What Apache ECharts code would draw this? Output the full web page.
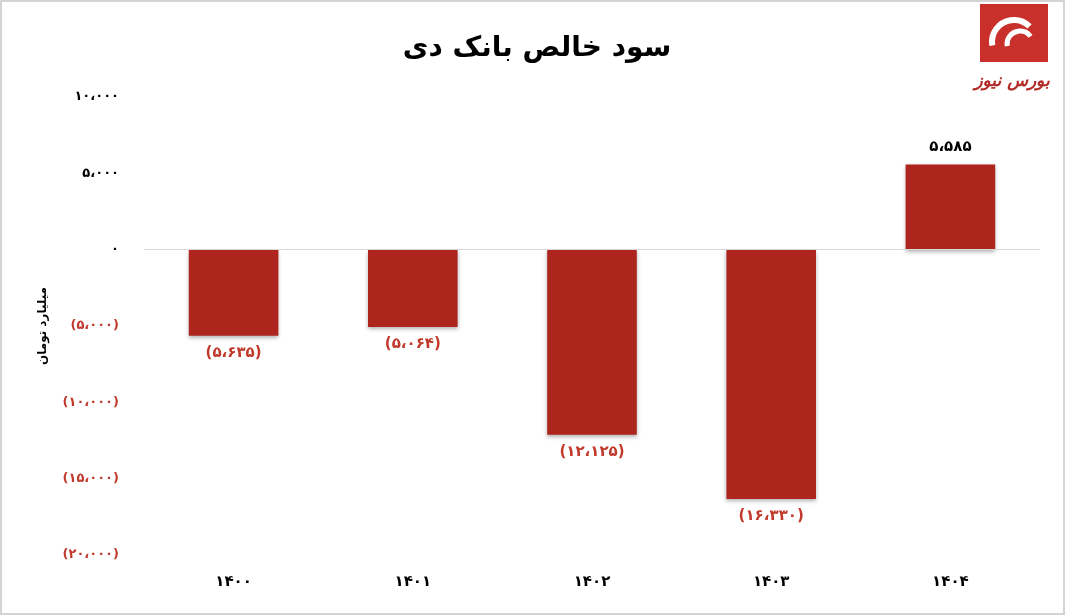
<!DOCTYPE html>
<html>
<head>
<meta charset="utf-8">
<script src="https://cdn.jsdelivr.net/npm/echarts@6/dist/echarts.min.js"></script>
<style>
  html, body { margin: 0; padding: 0; background: #fff; }
  #chart { width: 1061px; height: 611px; border: 2px solid #d4d4d4; }
</style>
</head>
<body>
<div id="chart"></div>
<script>
const years = ["1400", "1401", "1402", "1403", "1404"];
const netProfit = [-5635, -5064, -12125, -16330, 5585];

const faDigits = "۰۱۲۳۴۵۶۷۸۹";
function toFa(s) {
  return String(s).replace(/\d/g, d => faDigits[d]);
}
function fmt(v) {
  const n = Math.abs(v).toString().replace(/\B(?=(\d{3})+(?!\d))/g, "،");
  return v < 0 ? "(" + toFa(n) + ")" : toFa(n);
}

const chart = echarts.init(document.getElementById("chart"));
const font = "'DejaVu Sans', 'Noto Sans', sans-serif";
chart.setOption({
  animation: false,
  title: {
    text: "سود خالص بانک دی",
    left: 530, top: 28, textAlign: "center",
    textStyle: { fontSize: 28, fontWeight: "bold", color: "#000", fontFamily: font }
  },
  graphic: [
    { type: "rect", shape: { x: 978, y: 2, width: 68, height: 58 }, style: { fill: "#c9302c" } },
    { type: "arc", shape: { cx: 1012, cy: 40, r: 22, startAngle: Math.PI * 0.95, endAngle: Math.PI * 1.75 },
      style: { stroke: "#fff", lineWidth: 6, fill: null } },
    { type: "arc", shape: { cx: 1018, cy: 42, r: 13, startAngle: Math.PI * 0.95, endAngle: Math.PI * 1.8 },
      style: { stroke: "#fff", lineWidth: 5, fill: null } },
    { type: "text", style: { x: 1010, y: 80, text: "بورس نیوز", fill: "#b22a26",
      font: "italic bold 17px " + font, textAlign: "center", textVerticalAlign: "middle" } }
  ],
  grid: { left: 142, right: 23, top: 95, bottom: 58 },
  xAxis: {
    type: "category",
    data: years,
    axisLine: { show: false },
    axisTick: { show: false },
    axisLabel: { formatter: v => toFa(v), fontWeight: "bold", fontSize: 15, color: "#000",
      fontFamily: font, margin: 20 }
  },
  yAxis: {
    type: "value",
    min: -20000, max: 10000, interval: 5000,
    name: "میلیارد تومان",
    nameLocation: "middle",
    nameGap: 95,
    nameRotate: 90,
    nameTextStyle: { fontSize: 12, fontWeight: "bold", color: "#000", fontFamily: font },
    splitLine: { show: false },
    axisLine: { show: false },
    axisLabel: {
      formatter: v => fmt(v),
      margin: 25,
      fontWeight: "bold", fontSize: 13, fontFamily: font,
      color: v => (v < 0 ? "#c0392b" : "#000")
    }
  },
  series: [{
    type: "bar",
    data: netProfit.map(v => ({
      value: v,
      label: { color: v < 0 ? "#c0392b" : "#000", position: v < 0 ? "bottom" : "top" }
    })),
    barWidth: "50%",
    itemStyle: { color: "#ad251d", shadowColor: "rgba(0,0,0,0.3)", shadowBlur: 4, shadowOffsetY: 2 },
    label: {
      show: true,
      formatter: p => fmt(p.value),
      fontWeight: "bold", fontSize: 15, fontFamily: font,
      distance: 10
    },
    markLine: {
      silent: true, symbol: "none", label: { show: false },
      lineStyle: { color: "#d9d9d9", type: "solid", width: 1 },
      data: [{ yAxis: 0 }]
    }
  }]
});
</script>
</body>
</html>
